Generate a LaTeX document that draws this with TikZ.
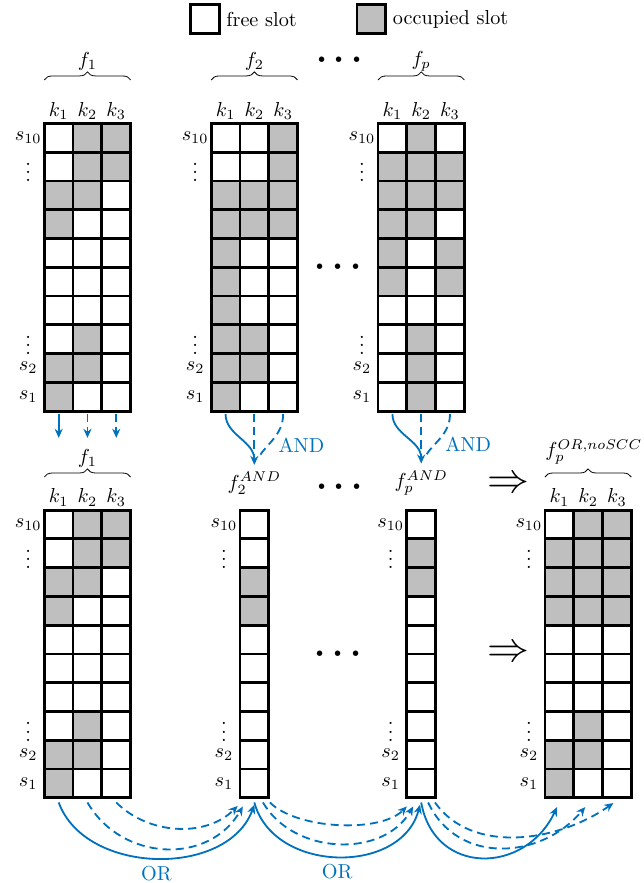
\documentclass[tikz,border=0pt]{standalone}
\usetikzlibrary{positioning,decorations.pathreplacing,arrows.meta}

\definecolor{opblue}{RGB}{0,114,189}

\tikzset{
  slot/.style={draw, line width=1.4pt, minimum size=0.5cm, inner sep=0pt, outer sep=0pt},
  lab/.style={inner sep=1pt},
  fbrace/.style={decorate, decoration={brace, amplitude=4pt}},
  oparrow/.style={opblue, line width=0.9pt, ->},
  opdash/.style={opblue, line width=0.9pt, dash pattern=on 4pt off 2.5pt},
  bigsym/.style={font=\LARGE\boldmath},
}

% one block of slots: name, left x, top y, rows (s10 first)
\newcommand{\slotgrid}[4]{%
  \foreach \row [count=\r] in {#4} {
    \foreach \bit [count=\c] in \row {
      \ifnum\bit=1 \def\slotfill{lightgray}\else\def\slotfill{white}\fi
      \node[slot, fill=\slotfill] (#1-\r-\c) at ({#2+\c-0.5},{#3-\r+0.5}) {};
    }
  }
  \foreach \r/\lab in {1/s_{10},2/\vdots,8/\vdots,9/s_2,10/s_1}
    \node[lab] (#1-s\r) at ([xshift=-0.28cm]#1-\r-1.west) {$\lab$};
}

\begin{document}
\begin{tikzpicture}[x=0.5cm, y=0.5cm, >={Stealth[length=4.5pt, width=4pt]}]
  \useasboundingbox (0,0) rectangle (22.35,-30.69);

  % legende
  \node[slot, fill=white] (leg-free) at (7.12,-0.66) {};
  \node[right=0pt of leg-free] (leg-free-t) {free slot};
  \node[slot, fill=lightgray] (leg-occ) at (12.91,-0.66) {};
  \node[right=0pt of leg-occ] (leg-occ-t) {occupied slot};

  % spektrum der fasern
  \slotgrid{t1}{1.54}{-4.29}{{0,1,1},{0,1,1},{1,1,0},{1,0,0},{0,0,0},{0,0,0},{0,0,0},{0,1,0},{1,1,0},{1,0,0}}
  \slotgrid{t2}{7.34}{-4.29}{{0,0,1},{0,0,1},{1,1,1},{1,1,1},{1,0,0},{1,0,0},{1,0,0},{1,1,0},{1,1,0},{1,0,0}}
  \slotgrid{t3}{13.14}{-4.29}{{0,1,0},{1,1,1},{1,1,1},{1,1,0},{1,0,1},{1,0,1},{0,0,0},{0,1,0},{0,1,0},{0,1,0}}

  % AND je faser, dann OR
  \slotgrid{b1}{1.54}{-17.73}{{0,1,1},{0,1,1},{1,1,0},{1,0,0},{0,0,0},{0,0,0},{0,0,0},{0,1,0},{1,1,0},{1,0,0}}
  \slotgrid{a2}{8.34}{-17.73}{{0},{0},{1},{1},{0},{0},{0},{0},{0},{0}}
  \slotgrid{a3}{14.14}{-17.73}{{0},{1},{1},{0},{0},{0},{0},{0},{0},{0}}
  \slotgrid{r}{18.94}{-17.73}{{0,1,1},{1,1,1},{1,1,1},{1,1,1},{0,0,0},{0,0,0},{0,0,0},{0,1,0},{1,1,0},{1,0,0}}

  % kernindizes
  \foreach \g in {t1,t2,t3,b1,r}
    \foreach \c in {1,2,3}
      \node[lab] (\g-k\c) at ([yshift=0.22cm]\g-1-\c.north) {$k_\c$};

  % klammern
  \foreach \g/\lab in {t1/f_1,t2/f_2,t3/f_p}
    \draw[fbrace] ([yshift=0.755cm]\g-1-1.north west) -- ([yshift=0.755cm]\g-1-3.north east)
      node[midway, yshift=0.32cm] (\g-f) {$\lab$};
  \draw[fbrace] ([yshift=0.575cm]b1-1-1.north west) -- ([yshift=0.575cm]b1-1-3.north east)
    node[midway, yshift=0.33cm] (b1-f) {$f_1$};
  \draw[fbrace] ([yshift=0.575cm]r-1-1.north west) -- ([yshift=0.575cm]r-1-3.north east)
    node[midway, lab, xshift=0.1cm, yshift=0.43cm] (r-f) {$f_p^{OR,noSCC}$};
  \node (a2-f) at ([yshift=0.47cm]a2-1-1.north) {$f_2^{AND}$};
  \node (a3-f) at ([yshift=0.47cm]a3-1-1.north) {$f_p^{AND}$};

  % punkte und folgerung
  \node[bigsym] (dots1) at (11.8,-2.09) {$\cdots$};
  \node[bigsym] (dots2) at (11.75,-9.29) {$\cdots$};
  \node[bigsym] (dots3) at (11.8,-16.93) {$\cdots$};
  \node[bigsym] (dots4) at (11.75,-22.73) {$\cdots$};
  \node[font=\huge, lab] (impl1) at (17.66,-16.86) {$\Rightarrow$};
  \node[font=\huge, lab] (impl2) at (17.66,-22.73) {$\Rightarrow$};

  % f1 wird uebernommen
  \draw[oparrow, shorten <=1.5pt, shorten >=2pt] (t1-10-1.south) -- (b1-f.north -| t1-10-1.south);
  \draw[oparrow, opdash, shorten <=1.5pt, shorten >=2pt] (t1-10-2.south) -- (b1-f.north -| t1-10-2.south);
  \draw[oparrow, opdash, shorten <=1.5pt, shorten >=2pt] (t1-10-3.south) -- (b1-f.north -| t1-10-3.south);

  % AND ueber die kerne
  \foreach \g/\a in {t2/a2,t3/a3} {
    \draw[oparrow, shorten <=1.5pt] (\g-10-1.south) to[out=-90,in=90] (\a-f.north);
    \draw[opdash, shorten <=1.5pt, shorten >=0.17cm] (\g-10-2.south) -- (\a-f.north);
    \draw[opdash, shorten <=1.5pt, shorten >=0.17cm] (\g-10-3.south) to[out=-90,in=60]
      node[pos=0.62, right=1pt] (\g-and) {AND} (\a-f.north);
  }

  % OR: f1 -> f2^AND
  \draw[oparrow] ([yshift=-0.08cm]b1-10-1.south) .. controls +(-70:2.7) and +(-110:2.7) ..
    ([yshift=-0.12cm]a2-10-1.south) node[midway, below] (or1) {OR};
  \draw[oparrow, opdash] ([yshift=-0.08cm]b1-10-2.south) .. controls +(-60:2.37) and +(-120:2.37) ..
    ([xshift=-0.2cm, yshift=-0.15cm]a2-10-1.south);
  \draw[oparrow, opdash] ([yshift=-0.08cm]b1-10-3.south) .. controls +(-45:1.58) and +(-135:1.58) ..
    ([xshift=-0.29cm, yshift=-0.14cm]a2-10-1.south);

  % OR: f2^AND -> fp^AND
  \draw[oparrow] ([yshift=-0.08cm]a2-10-1.south) .. controls +(-75:2.55) and +(-105:2.55) ..
    ([xshift=-0.02cm, yshift=-0.12cm]a3-10-1.south) node[midway, below] (or2) {OR};
  \draw[oparrow, opdash] ([xshift=0.15cm, yshift=-0.08cm]a2-10-1.south) .. controls +(-60:2.1) and +(-120:2.1) ..
    ([xshift=-0.14cm, yshift=-0.15cm]a3-10-1.south);
  \draw[oparrow, opdash] ([xshift=0.27cm, yshift=-0.08cm]a2-10-1.south) .. controls +(-45:1.32) and +(-135:1.32) ..
    ([xshift=-0.25cm, yshift=-0.15cm]a3-10-1.south);

  % OR: fp^AND -> ergebnis
  \draw[oparrow] ([yshift=-0.08cm]a3-10-1.south) .. controls +(-80:2.6) and +(-115:2.6) ..
    ([xshift=-0.04cm, yshift=-0.16cm]r-10-1.south);
  \draw[oparrow, opdash] ([xshift=0.12cm, yshift=-0.08cm]a3-10-1.south) .. controls +(-65:2.4) and +(-130:2.4) ..
    ([xshift=-0.05cm, yshift=-0.16cm]r-10-2.south);
  \draw[oparrow, opdash] ([xshift=0.24cm, yshift=-0.08cm]a3-10-1.south) .. controls +(-55:2.2) and +(-145:2.4) ..
    ([xshift=-0.06cm, yshift=-0.09cm]r-10-3.south);
\end{tikzpicture}
\end{document}
